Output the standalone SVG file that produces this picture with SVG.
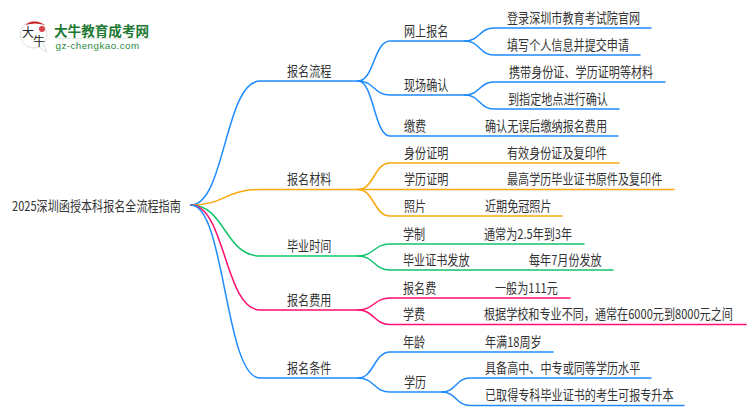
<svg xmlns="http://www.w3.org/2000/svg" width="750" height="410" viewBox="0 0 750 410">
<style>
text{font-family:"Noto Sans CJK SC","Liberation Sans",sans-serif;font-size:11.1px;fill:#333}
.c path{fill:none;stroke-width:1.5;stroke-linecap:round}
.o{stroke:#f9a90f}
.g{stroke:#10c46c}
.r{stroke:#ff0f6e}
.u{stroke:#1e8bff}
</style>
<g id="connectors" class="c">
<path class="u" d="M191 205C225 205 225 81 260 81H358"/>
<path class="o" d="M191 205C225 205 225 189.500 260 189.500H358"/>
<path class="g" d="M191 205C225 205 225 256 260 256H358"/>
<path class="r" d="M191 205C225 205 225 310 260 310H358"/>
<path class="u" d="M191 205C225 205 225 378 260 378H358"/>
<path class="u" d="M358 81C374 81 374 41 390 41H465"/>
<path class="u" d="M358 81C374 81 374 95 390 95H465"/>
<path class="u" d="M358 81C374 81 374 136 390 136H618"/>
<path class="u" d="M465 41C479.500 41 479.500 28 494 28H651"/>
<path class="u" d="M465 41C479.500 41 479.500 55 494 55H640"/>
<path class="u" d="M465 95C479.500 95 479.500 82 494 82H665"/>
<path class="u" d="M465 95C479.500 95 479.500 109 494 109H619"/>
<path class="o" d="M358 189.500C374 189.500 374 163 390 163H619"/>
<path class="o" d="M358 189.500H674"/>
<path class="o" d="M358 189.500C374 189.500 374 216 390 216H562"/>
<path class="g" d="M358 256C374 256 374 244 390 244H584"/>
<path class="g" d="M358 256C374 256 374 270 390 270H613"/>
<path class="r" d="M358 310C374 310 374 298 390 298H570"/>
<path class="r" d="M358 310C374 310 374 324.500 390 324.500H746"/>
<path class="u" d="M358 378C374 378 374 352 390 352H553"/>
<path class="u" d="M358 378C374 378 374 392 390 392H442"/>
<path class="u" d="M442 392C456 392 456 378 470 378H651"/>
<path class="u" d="M442 392C456 392 456 405.500 470 405.500H684"/>
</g>
<g id="logo">
<path d="M34 21a13.500 13.500 0 1 0 5 26l8 5-4-8a13.500 13.500 0 0 0-9-23z" fill="#fff" stroke="#ddd"/>
<path d="M25 25q9-7 20 0q-10-3-20 0z" fill="#c8161d"/>
<circle cx="42" cy="29" r="3" fill="#d9434a"/>
<text x="22" y="37" style="font-size:12px;fill:#222">大</text>
<text x="33" y="46" style="font-size:12px;fill:#222">牛</text>
<text x="54" y="36" style="font-size:13.600px;font-weight:700;fill:#1f7a35">大牛教育成考网</text>
<path d="M55 38.500H150" stroke="#dfe9df"/>
<text x="55.500" y="49" style="font-size:9.800px;fill:#2a8a42;font-family:'Liberation Sans',sans-serif;letter-spacing:.45px">gz-chengkao.com</text>
</g>
<g id="root"><text transform="matrix(1 0 0 1.2 12 210.500)">2025深圳函授本科报名全流程指南</text></g>
<g id="n1"><text transform="matrix(1 0 0 1.2 287 75.500)">报名流程</text></g>
<g id="n11"><text transform="matrix(1 0 0 1.2 404 35.500)">网上报名</text></g>
<g id="n111"><text transform="matrix(1 0 0 1.2 507 22.500)">登录深圳市教育考试院官网</text></g>
<g id="n112"><text transform="matrix(1 0 0 1.2 507 49.500)">填写个人信息并提交申请</text></g>
<g id="n12"><text transform="matrix(1 0 0 1.2 404 89.500)">现场确认</text></g>
<g id="n121"><text transform="matrix(1 0 0 1.2 509 76.500)">携带身份证、学历证明等材料</text></g>
<g id="n122"><text transform="matrix(1 0 0 1.2 508 103.500)">到指定地点进行确认</text></g>
<g id="n13"><text transform="matrix(1 0 0 1.2 404 130.500)">缴费</text></g>
<g id="n131"><text transform="matrix(1 0 0 1.2 485 130.500)">确认无误后缴纳报名费用</text></g>
<g id="n2"><text transform="matrix(1 0 0 1.2 287 184)">报名材料</text></g>
<g id="n21"><text transform="matrix(1 0 0 1.2 404 157.500)">身份证明</text></g>
<g id="n211"><text transform="matrix(1 0 0 1.2 507 157.500)">有效身份证及复印件</text></g>
<g id="n22"><text transform="matrix(1 0 0 1.2 404 184)">学历证明</text></g>
<g id="n221"><text transform="matrix(1 0 0 1.2 507 184)">最高学历毕业证书原件及复印件</text></g>
<g id="n23"><text transform="matrix(1 0 0 1.2 404 210.500)">照片</text></g>
<g id="n231"><text transform="matrix(1 0 0 1.2 485 210.500)">近期免冠照片</text></g>
<g id="n3"><text transform="matrix(1 0 0 1.2 287 250.500)">毕业时间</text></g>
<g id="n31"><text transform="matrix(1 0 0 1.2 403 238.500)">学制</text></g>
<g id="n311"><text transform="matrix(1 0 0 1.2 484 238.500)">通常为2.5年到3年</text></g>
<g id="n32"><text transform="matrix(1 0 0 1.2 403 264.500)">毕业证书发放</text></g>
<g id="n321"><text transform="matrix(1 0 0 1.2 529 264.500)">每年7月份发放</text></g>
<g id="n4"><text transform="matrix(1 0 0 1.2 287 304.500)">报名费用</text></g>
<g id="n41"><text transform="matrix(1 0 0 1.2 403 292.500)">报名费</text></g>
<g id="n411"><text transform="matrix(1 0 0 1.2 495 292.500)">一般为111元</text></g>
<g id="n42"><text transform="matrix(1 0 0 1.2 403 319)">学费</text></g>
<g id="n421"><text transform="matrix(1 0 0 1.2 484 319)">根据学校和专业不同，通常在6000元到8000元之间</text></g>
<g id="n5"><text transform="matrix(1 0 0 1.2 287 372.500)">报名条件</text></g>
<g id="n51"><text transform="matrix(1 0 0 1.2 403 346.500)">年龄</text></g>
<g id="n511"><text transform="matrix(1 0 0 1.2 485 346.500)">年满18周岁</text></g>
<g id="n52"><text transform="matrix(1 0 0 1.2 404 386.500)">学历</text></g>
<g id="n521"><text transform="matrix(1 0 0 1.2 485 372.500)">具备高中、中专或同等学历水平</text></g>
<g id="n522"><text transform="matrix(1 0 0 1.2 485 400)">已取得专科毕业证书的考生可报专升本</text></g>
</svg>
